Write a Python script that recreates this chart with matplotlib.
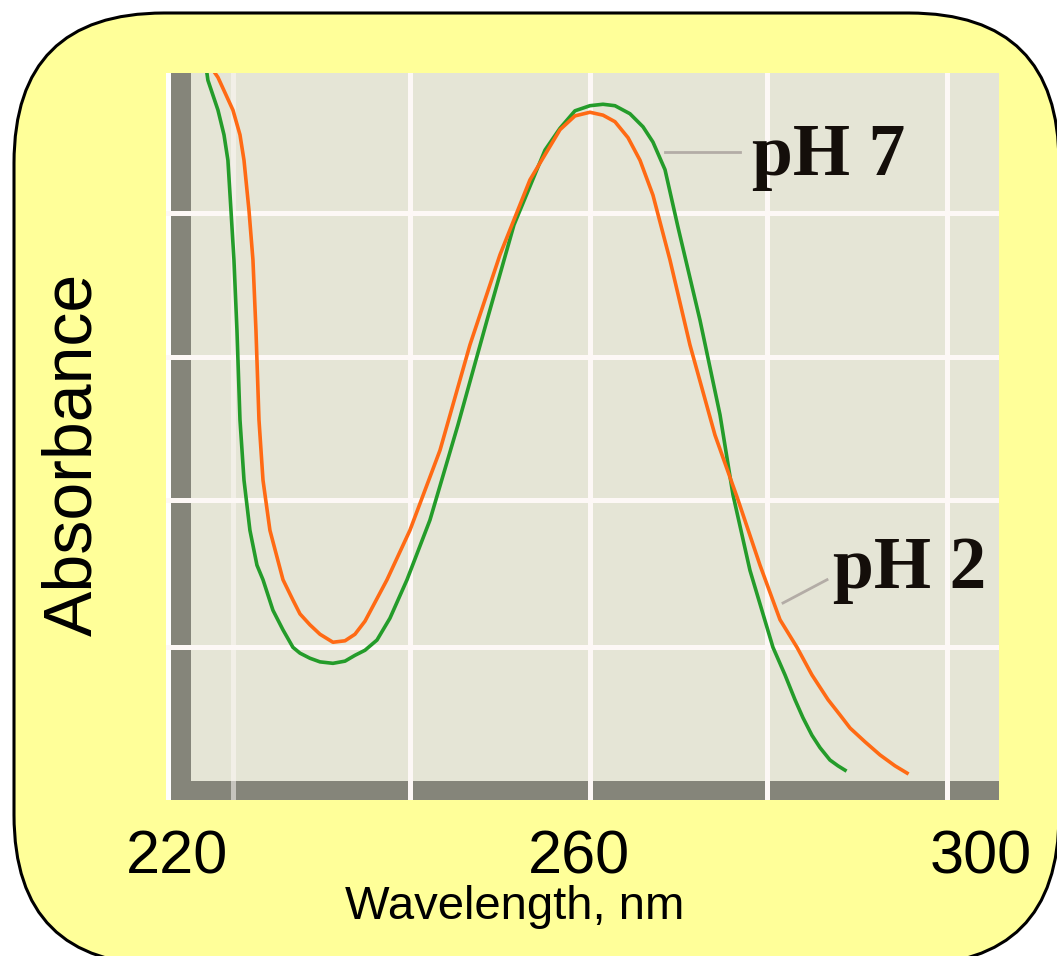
import matplotlib
matplotlib.use("Agg")
import matplotlib.pyplot as plt
from matplotlib.patches import FancyBboxPatch, Rectangle

plt.rcParams["font.family"] = ["Liberation Sans", "DejaVu Sans"]

# curves (wavelength in nm, absorbance in arbitrary units)
ph7_nm = [223.01, 223.11, 224.11, 224.71, 225.10, 225.40, 225.70, 226.00, 226.30, 226.70,
          227.29, 227.99, 228.59, 229.58, 230.58, 231.57, 232.27, 233.26, 234.26, 235.55,
          236.75, 237.74, 238.74, 239.93, 241.22, 242.92, 245.20, 247.99, 250.88, 253.56,
          256.65, 258.14, 259.63, 261.12, 262.42, 263.61, 265.10, 266.40, 267.39, 268.59,
          269.88, 272.07, 274.06, 275.35, 277.04, 279.33, 280.53, 281.52, 282.32, 283.21,
          284.01, 285.00, 285.80, 286.50]
ph7_abs = [1.000, 0.990, 0.949, 0.915, 0.880, 0.812, 0.743, 0.646, 0.523, 0.440,
           0.371, 0.323, 0.303, 0.261, 0.234, 0.210, 0.202, 0.195, 0.190, 0.188,
           0.191, 0.199, 0.206, 0.220, 0.250, 0.303, 0.385, 0.516, 0.660, 0.791,
           0.894, 0.924, 0.948, 0.955, 0.957, 0.955, 0.944, 0.926, 0.905, 0.867,
           0.788, 0.660, 0.530, 0.420, 0.316, 0.210, 0.172, 0.138, 0.113, 0.089,
           0.072, 0.055, 0.047, 0.041]

ph2_nm = [223.81, 224.11, 225.60, 226.30, 226.70, 227.19, 227.59, 227.89, 228.19, 228.59,
          229.28, 230.58, 231.57, 232.27, 233.26, 234.26, 235.55, 236.75, 237.74, 238.74,
          240.93, 243.21, 246.20, 249.18, 252.17, 255.15, 258.14, 259.63, 261.12, 262.42,
          263.61, 264.91, 266.10, 267.39, 269.08, 271.07, 273.56, 275.85, 278.04, 280.03,
          281.72, 283.21, 284.81, 286.00, 287.00, 288.49, 289.98, 291.47, 292.67]
ph2_abs = [1.000, 0.994, 0.949, 0.915, 0.880, 0.812, 0.743, 0.646, 0.523, 0.440,
           0.371, 0.303, 0.275, 0.256, 0.241, 0.228, 0.217, 0.219, 0.228, 0.246,
           0.303, 0.371, 0.481, 0.626, 0.750, 0.853, 0.922, 0.941, 0.946, 0.942,
           0.933, 0.911, 0.880, 0.832, 0.743, 0.626, 0.502, 0.413, 0.323, 0.248,
           0.210, 0.172, 0.138, 0.117, 0.099, 0.080, 0.062, 0.047, 0.037]

xtick_vals = [220, 260, 300]
grid_x = [225.6, 243.2, 261.1, 278.7, 296.6]
grid_y = [0.807, 0.609, 0.413, 0.210]

fig = plt.figure(figsize=(10.57, 9.56), dpi=100)

# rounded yellow panel, drawn in pixel units
bg = fig.add_axes([0, 0, 1, 1])
bg.set_xlim(0, 1057)
bg.set_ylim(956, 0)
bg.axis("off")
bg.add_patch(FancyBboxPatch((14, 13), 1045, 952, boxstyle="round,pad=0,rounding_size=150",
                            fc="#ffff99", ec="black", lw=2.2, clip_on=False))

ax = fig.add_axes([166 / 1057, 156 / 956, 833 / 1057, 727 / 956])
ax.set_facecolor("#e5e5d6")
ax.set_xlim(218.94, 301.82)
ax.set_ylim(0, 1)
for s in ax.spines.values():
    s.set_visible(False)

# white strip + dark frame bands of the inset picture
ax.add_patch(Rectangle((0, 0), 0.006, 1, transform=ax.transAxes, fc="white", ec="none", zorder=1))
ax.add_patch(Rectangle((0.006, 0), 0.024, 1, transform=ax.transAxes, fc="#85857a", ec="none", zorder=1))
ax.add_patch(Rectangle((0.006, 0), 0.994, 0.026, transform=ax.transAxes, fc="#85857a", ec="none", zorder=1))

for i, gx in enumerate(grid_x):
    ax.axvline(gx, color="#fdf8f6", lw=3.6, alpha=0.55 if i == 0 else 1, zorder=2)
for gy in grid_y:
    ax.axhline(gy, color="#fdf8f6", lw=3.6, zorder=2)

ax.plot(ph7_nm, ph7_abs, color="#249c2a", lw=2.6, zorder=3, solid_joinstyle="round")
ax.plot(ph2_nm, ph2_abs, color="#ff6a14", lw=2.6, zorder=3, solid_joinstyle="round")

# curve labels with leader lines
ax.plot([268.59, 276.05], [0.891, 0.891], color="#b3aca6", lw=2, zorder=3)
ax.plot([280.33, 284.71], [0.271, 0.303], color="#b3aca6", lw=2, zorder=3)
ax.text(277.27, 0.860, "pH 7", family="Liberation Serif", weight="bold", fontsize=53,
        color="#140e0a", ha="left", va="baseline", zorder=4)
ax.text(285.30, 0.292, "pH 2", family="Liberation Serif", weight="bold", fontsize=53,
        color="#140e0a", ha="left", va="baseline", zorder=4)

ax.set_xticks(xtick_vals)
ax.set_xticklabels([str(v) for v in xtick_vals])
ax.set_yticks([])
ax.tick_params(axis="x", length=0, pad=21, labelsize=44)

ax.set_xlabel("Wavelength, nm", fontsize=34)
ax.xaxis.set_label_coords(0.418, -0.117)
ax.set_ylabel("Absorbance", fontsize=49)
ax.yaxis.set_label_coords(-0.073, 0.476)

fig.savefig("out.png", dpi=100)
